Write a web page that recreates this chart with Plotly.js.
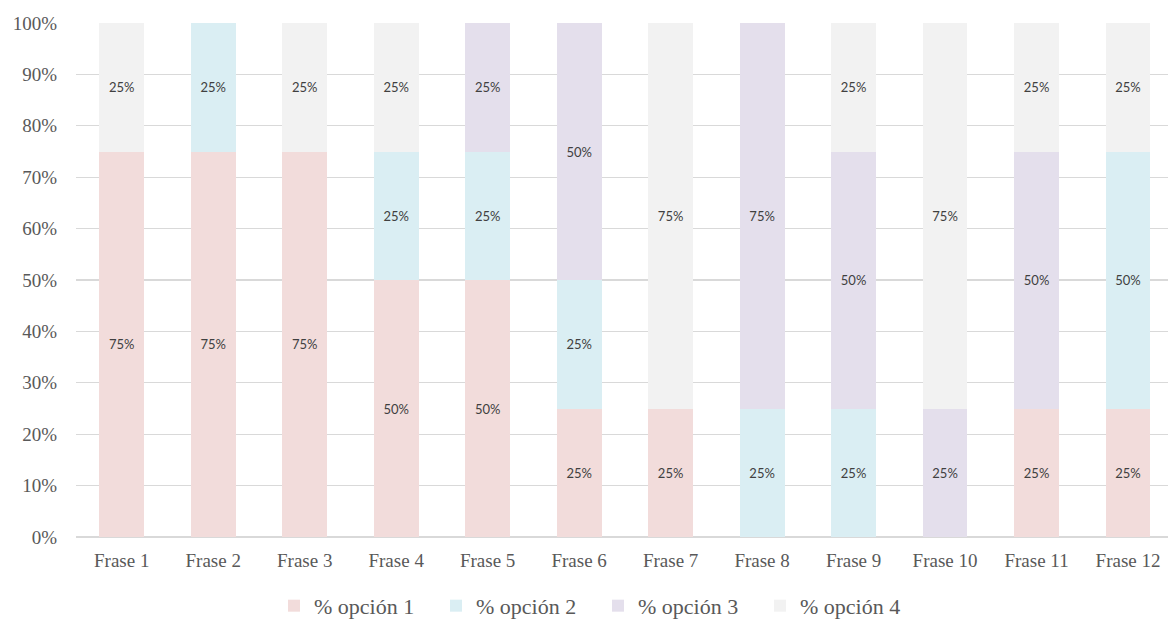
<!DOCTYPE html>
<html>
<head>
<meta charset="utf-8">
<script src="https://cdn.plot.ly/plotly-3.0.1.min.js"></script>
<style>
  html, body { margin: 0; padding: 0; background: #ffffff; }
  #chart { width: 1168px; height: 621px; }
</style>
</head>
<body>
<div id="chart"></div>
<script>
// Share of answers per sentence (percent)
const frases = ['Frase 1', 'Frase 2', 'Frase 3', 'Frase 4', 'Frase 5', 'Frase 6',
                'Frase 7', 'Frase 8', 'Frase 9', 'Frase 10', 'Frase 11', 'Frase 12'];
const opcion1 = [75, 75, 75, 50, 50, 25, 25, 0, 0, 0, 25, 25];
const opcion2 = [0, 25, 0, 25, 25, 25, 0, 25, 25, 0, 0, 50];
const opcion3 = [0, 0, 0, 0, 25, 50, 0, 75, 50, 25, 50, 0];
const opcion4 = [25, 0, 25, 25, 0, 0, 75, 0, 25, 75, 25, 25];
const nombres = ['% opción 1', '% opción 2', '% opción 3', '% opción 4'];
const colores = ['#F2DCDB', '#DAEEF3', '#E4DFEC', '#F2F2F2'];

const series = [opcion1, opcion2, opcion3, opcion4];

const traces = series.map((vals, i) => ({
  type: 'bar',
  name: nombres[i],
  x: frases,
  y: vals,
  text: vals.map(v => (v > 0 ? v + '%' : '')),
  textposition: 'inside',
  insidetextanchor: 'middle',
  textangle: 0,
  constraintext: 'none',
  textfont: { family: 'Lato, "Open Sans", sans-serif', size: 13, color: '#404040' },
  marker: { color: colores[i], line: { width: 0 } },
  hoverinfo: 'skip'
}));

const layout = {
  width: 1168,
  height: 621,
  paper_bgcolor: '#ffffff',
  plot_bgcolor: '#ffffff',
  barmode: 'stack',
  bargap: 0.51,
  margin: { l: 76, r: 0, t: 22.5, b: 84, pad: 0, autoexpand: false },
  showlegend: true,
  legend: {
    orientation: 'h',
    x: 0.478,
    xanchor: 'center',
    y: -0.134,
    yanchor: 'middle',
    traceorder: 'normal',
    font: { family: '"Liberation Serif", serif', size: 22, color: '#595959' },
    itemwidth: 30,
    entrywidth: 117
  },
  xaxis: {
    type: 'category',
    range: [-0.5, 11.437],
    automargin: false,
    showgrid: false,
    showline: false,
    zeroline: false,
    ticks: '',
    ticklabelstandoff: 10,
    tickfont: { family: '"Liberation Serif", serif', size: 19, color: '#595959' }
  },
  yaxis: {
    range: [0, 100],
    automargin: false,
    tickmode: 'linear',
    tick0: 0,
    dtick: 10,
    ticksuffix: '%',
    showgrid: true,
    gridcolor: '#D9D9D9',
    gridwidth: 1.3,
    zeroline: true,
    zerolinecolor: '#D9D9D9',
    zerolinewidth: 1.6,
    showline: false,
    ticks: '',
    ticklabelstandoff: 18,
    tickfont: { family: '"Liberation Serif", serif', size: 19, color: '#595959' }
  }
};

Plotly.newPlot('chart', traces, layout, { displayModeBar: false, staticPlot: true });
</script>
</body>
</html>
